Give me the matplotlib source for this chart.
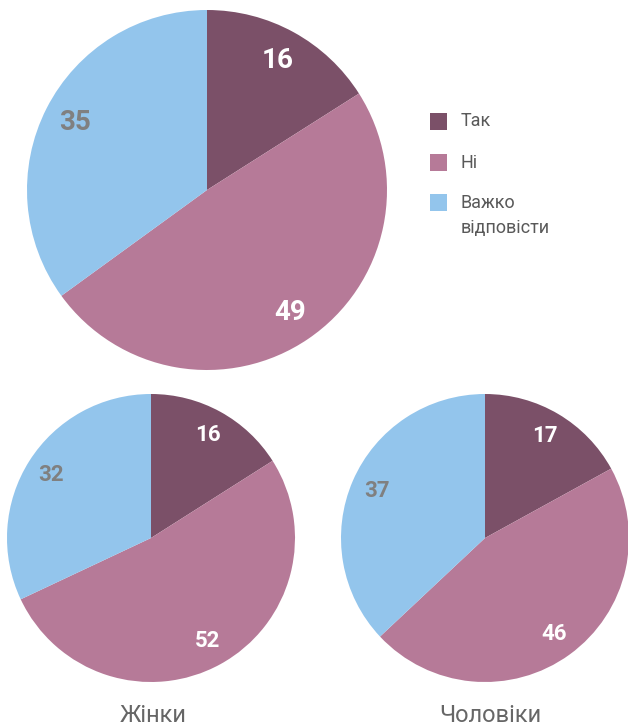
import numpy as np
import matplotlib
matplotlib.use("Agg")
import matplotlib.pyplot as plt
from matplotlib.patches import Rectangle

categories = ["Так", "Ні", "Важко\nвідповісти"]
total_vals = [16, 49, 35]
women_vals = [16, 52, 32]
men_vals = [17, 46, 37]
group_titles = ["Жінки", "Чоловіки"]

colors = ["#7b5068", "#b67a98", "#93c5ec"]
label_colors = ["white", "white", "#808080"]

W, H = 628, 727
fig = plt.figure(figsize=(W / 100, H / 100), dpi=100)
ax = fig.add_axes([0, 0, 1, 1])
ax.set_xlim(0, W)
ax.set_ylim(0, H)
ax.set_aspect("equal")
ax.axis("off")

FONT = "Roboto"


def draw_pie(vals, cx, cy, r, fs):
    wedges, _ = ax.pie(vals, colors=colors, startangle=90, counterclock=False,
                       center=(cx, H - cy), radius=r,
                       wedgeprops=dict(linewidth=0))
    for w, v, lc in zip(wedges, vals, label_colors):
        ang = np.deg2rad((w.theta1 + w.theta2) / 2)
        d = 0.82 * r
        ax.text(cx + d * np.cos(ang), H - cy + d * np.sin(ang), str(v),
                ha="center", va="center", fontsize=fs, fontweight="bold",
                color=lc, family=FONT)
    return wedges


draw_pie(total_vals, 207, 190, 180, 20)
draw_pie(women_vals, 151, 538, 144, 16)
draw_pie(men_vals, 485, 538, 144, 16)

ax.set_xlim(0, W)
ax.set_ylim(0, H)

# legend
leg_y = [121.5, 162.5, 202.5]
for c, lab, y in zip(colors, categories, leg_y):
    ax.add_patch(Rectangle((430, H - y - 8.5), 17, 17, color=c, lw=0))
    first, *rest = lab.split("\n")
    ax.text(461, H - y, first, ha="left", va="center", fontsize=13,
            color="#595959", family=FONT)
    if rest:
        ax.text(461, H - y - 26, rest[0], ha="left", va="center", fontsize=13,
                color="#595959", family=FONT)

for t, x in zip(group_titles, [153, 490]):
    ax.text(x, H - 716, t, ha="center", va="center", fontsize=17,
            color="#666666", family=FONT)

fig.savefig("out.png", dpi=100)
